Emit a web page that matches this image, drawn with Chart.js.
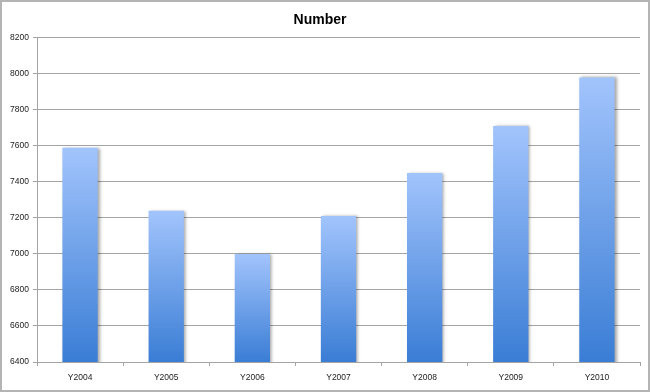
<!DOCTYPE html>
<html>
<head>
<meta charset="utf-8">
<script src="https://cdn.jsdelivr.net/npm/chart.js@4/dist/chart.umd.min.js"></script>
<style>
  html, body { margin: 0; padding: 0; background: #fff; }
  #contenedor { width: 650px; height: 392px; position: relative; }
</style>
</head>
<body>
<div id="contenedor"><canvas id="myChart"></canvas></div>
<script>
// DATOS
const etiquetas = ['Y2004', 'Y2005', 'Y2006', 'Y2007', 'Y2008', 'Y2009', 'Y2010']
const valores = [7590, 7240, 7000, 7210, 7450, 7710, 7980]
const yMin = 6400
const yMax = 8200
const yPaso = 200

const fuente = '"Liberation Sans", Arial, sans-serif'
const gris = '#a4a4a4'

// degradado por barra: claro arriba, oscuro abajo
const colorBarra = (ctx) => {
    const chart = ctx.chart
    const area = chart.chartArea
    if (!area || ctx.type !== 'data') return '#6a9de8'
    const top = chart.scales.y.getPixelForValue(ctx.raw)
    const g = chart.ctx.createLinearGradient(0, top, 0, area.bottom)
    g.addColorStop(0, '#a2c4fc')
    g.addColorStop(1, '#3a7dd5')
    return g
}

const chart = document.getElementById('myChart')

new Chart(chart, {
    type: 'bar',
    data: {
        labels: etiquetas,
        datasets: [{
            label: 'Number',
            data: valores,
            backgroundColor: colorBarra,
            borderWidth: 0,
            categoryPercentage: 1,
            barPercentage: 0.41,
        }]
    },
    options: {
        responsive: true,
        maintainAspectRatio: false,
        animation: false,
        layout: { padding: { left: 0, right: 10, top: 0, bottom: 0 } },
        scales: {
            x: {
                grid: {
                    display: true,
                    drawOnChartArea: false,
                    offset: true,
                    color: gris,
                    tickLength: 4,
                },
                border: { color: gris },
                ticks: {
                    color: '#222',
                    font: { family: fuente, size: 8.5 },
                    padding: 7,
                },
                afterFit: (s) => { s.height = 30 }
            },
            y: {
                min: yMin,
                max: yMax,
                grid: { color: gris, tickLength: 4 },
                border: { color: gris },
                ticks: {
                    stepSize: yPaso,
                    color: '#222',
                    font: { family: fuente, size: 8.5 },
                    padding: 4,
                    callback: (v) => String(v)
                },
                afterFit: (s) => { s.width = 37 }
            }
        },
        plugins: {
            title: {
                display: true,
                text: 'Number',
                color: '#000',
                font: { family: fuente, size: 14, weight: 'bold' },
                padding: { top: 12, bottom: 9 }
            },
            legend: { display: false },
            tooltip: { enabled: false }
        },
    },
    plugins: [{
        id: 'sombra_barras',
        beforeDatasetsDraw: (chart) => {
            const ctx = chart.ctx
            ctx.save()
            ctx.shadowColor = 'rgba(0,0,0,0.35)'
            ctx.shadowOffsetX = 2
            ctx.shadowOffsetY = 0
            ctx.shadowBlur = 3
        },
        afterDatasetsDraw: (chart) => {
            chart.ctx.restore()
        }
    }, {
        id: 'marco',
        afterDraw: (chart) => {
            const ctx = chart.ctx
            ctx.save()
            ctx.strokeStyle = '#b4b4b4'
            ctx.lineWidth = 2
            ctx.strokeRect(1, 1, chart.width - 2, chart.height - 2)
            ctx.restore()
        }
    }]
})
</script>
</body>
</html>
